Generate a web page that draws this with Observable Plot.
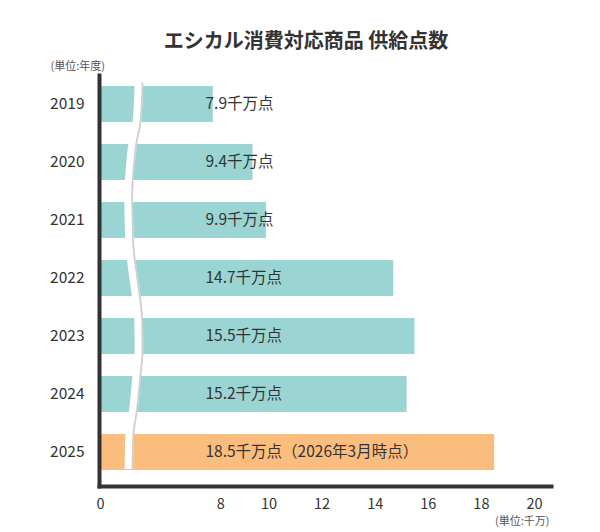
<!DOCTYPE html>
<html>
<head>
<meta charset="utf-8">
<script src="https://cdn.jsdelivr.net/npm/d3@7"></script>
<script src="https://cdn.jsdelivr.net/npm/@observablehq/plot@0.6"></script>
<style>
  html, body { margin: 0; padding: 0; background: #fff; }
  body { width: 600px; height: 532px; overflow: hidden; font-family: "Noto Sans CJK JP", "Noto Sans", sans-serif; }
  #head { position: relative; height: 52px; }
  #title { position: absolute; top: 28px; left: 12px; right: 0; text-align: center; line-height: 24px;
           font-size: 20px; font-weight: 700; color: #333; white-space: nowrap; }
  #chart svg { display: block; }
</style>
</head>
<body>
<div id="head"><div id="title">エシカル消費対応商品 供給点数</div></div>
<div id="chart"></div>
<script>
// ---- data ----
const years = ["2019", "2020", "2021", "2022", "2023", "2024", "2025"];
const values = [7.9, 9.4, 9.9, 14.7, 15.5, 15.2, 18.5];
const notes = ["", "", "", "", "", "", "（2026年3月時点）"];
const unit = "千万点";
const xTicks = [0, 8, 10, 12, 14, 16, 18, 20];
const yUnitLabel = "(単位:年度)";
const xUnitLabel = "(単位:千万)";
// axis-break wave: position along the rows (in row steps from the first row) and value
const waveT = [-0.37, 0.32, 0.70, 1.33, 1.69, 2.33, 2.69, 3.32, 3.68, 4.30, 4.69, 5.31, 5.67, 6.29];
const waveV = [5.12, 5.04, 4.88, 4.75, 4.73, 4.76, 4.83, 5.02, 5.10, 5.115, 5.04, 4.90, 4.78, 4.74];

const data = years.map((y, i) => ({year: y, value: values[i], note: notes[i]}));

const TEAL = "#9ad5d3";
const ORANGE = "#fbbd7e";
const INK = "#333333";

function breakMark(index, scales) {
  const x = scales.x, y = scales.y;
  const bw = typeof y.bandwidth === "function" ? y.bandwidth() : 0;
  const step = y(years[1]) - y(years[0]);
  const y0 = y(years[0]) + bw / 2;
  const pts = waveT.map((t, i) => [x(waveV[i]), y0 + t * step]);
  const line = d3.line().curve(d3.curveNatural);
  const g = d3.create("svg:g");
  g.append("path").attr("d", line(pts)).attr("fill", "none")
    .attr("stroke", "#ffffff").attr("stroke-width", 8.5);
  g.append("path").attr("d", line(pts)).attr("fill", "none")
    .attr("stroke", "#cfcfcf").attr("stroke-width", 1.8).attr("transform", "translate(3.6,0)");
  return g.node();
}

const chart = Plot.plot({
  width: 600,
  height: 480,
  marginLeft: 99,
  marginRight: 49,
  marginTop: 23,
  marginBottom: 46,
  style: {fontFamily: '"Noto Sans CJK JP", "Noto Sans", sans-serif', color: INK, background: "#fff"},
  x: {type: "linear", domain: [0, 4, 20], range: [100, 109.2, 534]},
  y: {type: "band", domain: years, range: [33, 419.7], paddingInner: 0.371, paddingOuter: 0, align: 0.5},
  marks: [
    Plot.barX(data, {
      x1: 0, x2: "value", y: "year",
      fill: d => d.note ? ORANGE : TEAL
    }),
    breakMark,
    Plot.text(data, {
      y: "year", frameAnchor: "left", dx: 106, textAnchor: "start",
      text: d => `${d.value}${unit}${d.note}`,
      fontSize: 15.5, fill: INK
    }),
    Plot.frame({anchor: "left", stroke: INK, strokeWidth: 4}),
    Plot.frame({anchor: "bottom", stroke: INK, strokeWidth: 4}),
    Plot.axisY({tickSize: 0, tickPadding: 15, fontSize: 15.5, label: null, color: INK}),
    Plot.axisX({ticks: xTicks.filter(t => t !== 8), tickFormat: d => String(d), tickSize: 0, tickPadding: 12, fontSize: 14.5, label: null, color: INK}),
    Plot.axisX({ticks: xTicks.filter(t => t === 8), tickFormat: d => String(d), tickSize: 0, tickPadding: 12, dx: 5, fontSize: 14.5, label: null, color: INK}),
    Plot.text([yUnitLabel], {frameAnchor: "top-left", dx: -49, dy: -13.3, textAnchor: "start", text: d => d, fontSize: 11, fill: "#555"}),
    Plot.text([xUnitLabel], {frameAnchor: "bottom-right", dx: -2, dy: 38, textAnchor: "end", text: d => d, fontSize: 11, fill: "#555"})
  ]
});
document.getElementById("chart").appendChild(chart);
</script>
</body>
</html>
